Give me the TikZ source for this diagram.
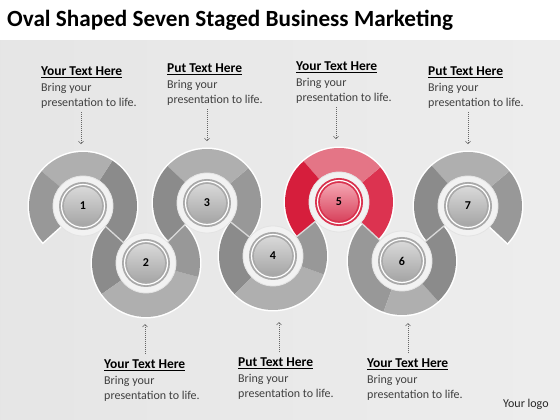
\documentclass[tikz,border=0pt]{standalone}
\usepackage{fontspec}
\setmainfont{Carlito}
\usetikzlibrary{arrows.meta}

\definecolor{ringdark}{HTML}{8B8B8B}
\definecolor{ringmid}{HTML}{989898}
\definecolor{ringlight}{HTML}{AFAFAF}
\definecolor{reddark}{HTML}{D61E3C}
\definecolor{redmid}{HTML}{DC3350}
\definecolor{redlight}{HTML}{E47586}
\definecolor{hubring}{HTML}{A9A9A9}
\definecolor{redring}{HTML}{D9324E}
\definecolor{balltop}{HTML}{D8D8D8}
\definecolor{ballbot}{HTML}{A6A6A6}
\definecolor{redtop}{HTML}{F4A5B1}
\definecolor{redbot}{HTML}{D8435D}
\definecolor{textgray}{HTML}{404040}

\newcommand{\blurbhead}[1]{\textcolor{black}{\fontsize{13.5}{15.5}\selectfont\bfseries\underline{#1 Text Here}}}

\tikzset{
  halo/.style={draw=white,line width=3pt},
  seam/.style={draw=gray!30,line width=1.3pt},
  hub/.style={circle,fill=gray!10,draw=gray!22,line width=0.8pt,minimum size=60pt,inner sep=0pt},
  rim/.style={circle,minimum size=48pt,inner sep=0pt},
  gap/.style={circle,draw=white,line width=1.2pt,minimum size=43pt,inner sep=0pt},
  ball/.style={circle,minimum size=38pt,inner sep=0pt,font=\fontsize{12}{12}\selectfont\bfseries},
  blurb/.style={anchor=base west,align=left,inner sep=0pt,text=textgray,font=\fontsize{12}{15.5}\selectfont},
  pointer/.style={draw=gray!80!black,line width=0.6pt,dash pattern=on 1pt off 1pt,-{Straight Barb[length=2.5pt,width=5pt]}}
}

\begin{document}
\begin{tikzpicture}[x=1pt,y=1pt]
\useasboundingbox (0,0) rectangle (560,420);
\fill[white] (0,0) rectangle (560,420);
\shade[left color=gray!20,middle color=gray!5,right color=gray!14] (0,0) rectangle (560,379);

\node[anchor=base west,inner sep=0pt,font=\fontsize{23.2}{27}\selectfont\bfseries] (title) at (7,393)
  {Oval Shaped Seven Staged Business Marketing};

\foreach \n/\x/\y in {1/83/214, 2/146/157, 3/207/217, 4/273/164, 5/339/218, 6/402/159, 7/468/214}
  \coordinate (c\n) at (\x,\y);

\foreach \n/\a/\b in {1/-42/222, 2/138/404.5, 3/-38.8/224.5, 4/141.2/399.3, 5/-43.1/219.3, 6/136.9/399.8, 7/-43/219.8}
  \draw[halo] (c\n) ++(\a:54) arc[start angle=\a,end angle=\b,radius=54] -- ++(\b:-24)
    arc[start angle=\b,end angle=\a,radius=30] -- cycle;

\foreach \n/\a/\b/\c in {
  1/-42/57/ringdark, 1/57/140/ringlight, 1/140/222/ringmid,
  2/138/215/ringdark, 2/215/345/ringlight, 2/345/404.5/ringmid,
  3/-38.8/40/ringmid, 3/40/137/ringlight, 3/137/224.5/ringdark,
  4/141.2/225/ringdark, 4/225/340/ringlight, 4/340/399.3/ringmid,
  5/-43.1/40/redmid, 5/40/131/redlight, 5/131/219.3/reddark,
  6/136.9/250/ringmid, 6/250/312/ringlight, 6/312/399.8/ringdark,
  7/-43/40/ringmid, 7/40/132/ringlight, 7/132/219.8/ringdark}
  \fill[\c] (c\n) ++(\a:54) arc[start angle=\a,end angle=\b,radius=54] -- ++(\b:-24)
    arc[start angle=\b,end angle=\a,radius=30] -- cycle;

\foreach \i/\j in {1/2, 2/3, 3/4, 4/5, 5/6, 6/7}
  \draw[seam] (c\i) -- (c\j);

\foreach \n/\rc/\tc/\bc in {1/hubring/balltop/ballbot, 2/hubring/balltop/ballbot, 3/hubring/balltop/ballbot,
    4/hubring/balltop/ballbot, 5/redring/redtop/redbot, 6/hubring/balltop/ballbot, 7/hubring/balltop/ballbot}
{
  \node[hub] (hub\n) at (c\n) {};
  \node[rim,fill=\rc] (rim\n) at (hub\n) {};
  \node[gap] (gap\n) at (hub\n) {};
  \node[ball,top color=\tc,bottom color=\bc] (ball\n) at (hub\n) {\n};
}

\foreach \name/\x/\y/\head in {t1/41/313/Your, t2/167/316/Put, t3/296/318/Your, t4/428/313/Put}
{
  \node[blurb] (\name) at (\x,\y) {\blurbhead{\head}\\Bring your\\presentation to life.};
  \draw[pointer] (\name.south west) ++(40,-3) -- ++(0,-32);
}

\foreach \name/\x/\y/\head in {b1/104/20/Your, b2/238/22/Put, b3/367/21/Your}
{
  \node[blurb] (\name) at (\x,\y) {\blurbhead{\head}\\Bring your\\presentation to life.};
  \draw[pointer] (\name.north west) ++(41,6) -- ++(0,30);
}

\node[anchor=base west,inner sep=0pt,text=black!85,font=\fontsize{12}{12}\selectfont] (logo) at (503,12) {Your logo};
\end{tikzpicture}
\end{document}
